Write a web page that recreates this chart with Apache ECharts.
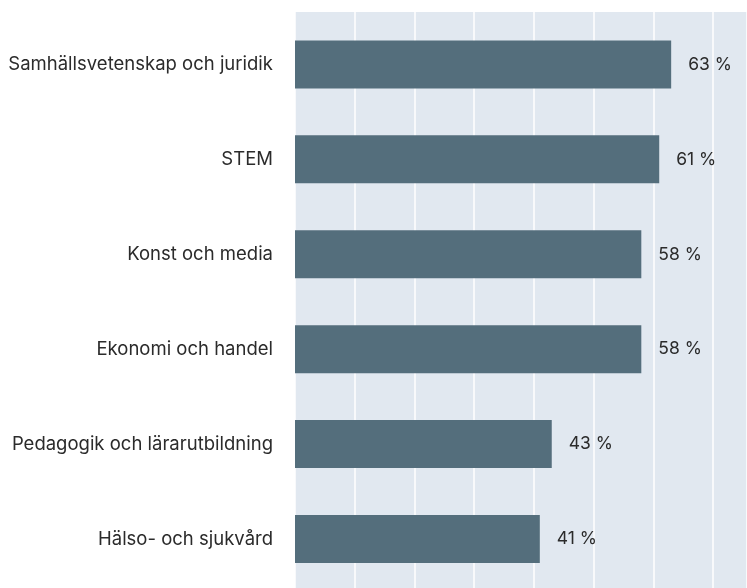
<!DOCTYPE html>
<html>
<head>
<meta charset="utf-8">
<script src="https://cdn.jsdelivr.net/npm/echarts@6/dist/echarts.min.js"></script>
<style>
  html, body { margin: 0; padding: 0; background: #ffffff; }
  #chart { width: 747px; height: 588px; }
</style>
</head>
<body>
<div id="chart"></div>
<script>
// kategorier uppifrån och ned
var categories = [
    'Samhällsvetenskap och juridik',
    'STEM',
    'Konst och media',
    'Ekonomi och handel',
    'Pedagogik och lärarutbildning',
    'Hälso- och sjukvård'
];
var values = [63, 61, 58, 58, 43, 41];

var axisMax = 75.7;
var font = 'Inter, "Noto Sans", sans-serif';

var option = {
    backgroundColor: '#ffffff',
    animation: false,
    grid: [
        // bakgrundsyta med rutnät
        { left: 295, right: 0, top: 12, bottom: 0, show: true, backgroundColor: '#e1e8f0', borderWidth: 0 },
        // yta för staplarna
        { left: 295, right: 0, top: 17, bottom: 1.6 }
    ],
    xAxis: [
        {
            gridIndex: 0,
            type: 'value',
            min: 0,
            max: axisMax,
            interval: 10,
            axisLine: { show: false },
            axisTick: { show: false },
            axisLabel: { show: false },
            splitLine: { show: true, lineStyle: { color: '#ffffff', width: 1.5 } }
        },
        {
            gridIndex: 1,
            type: 'value',
            min: 0,
            max: axisMax,
            show: false,
            splitLine: { show: false }
        }
    ],
    yAxis: [
        {
            gridIndex: 0,
            type: 'category',
            data: categories,
            show: false
        },
        {
            gridIndex: 1,
            type: 'category',
            data: categories,
            inverse: true,
            axisLine: { show: false },
            axisTick: { show: false },
            axisLabel: {
                color: '#2b2b2b',
                fontFamily: font,
                fontSize: 18.5,
                margin: 22
            }
        }
    ],
    series: [
        {
            type: 'bar',
            xAxisIndex: 1,
            yAxisIndex: 1,
            data: values,
            barWidth: 48,
            itemStyle: { color: '#546e7c' },
            label: {
                show: true,
                position: 'right',
                distance: 17,
                color: '#2b2b2b',
                fontFamily: font,
                fontSize: 17.5,
                formatter: function (p) {
                    return p.value + ' %';
                }
            }
        }
    ]
};

var myChart = echarts.init(document.getElementById('chart'));
myChart.setOption(option);
</script>
</body>
</html>
